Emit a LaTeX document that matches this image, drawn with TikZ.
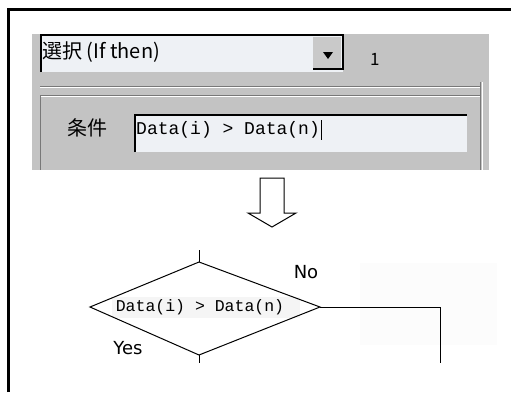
\documentclass[tikz,border=0pt]{standalone}
\usepackage{fontspec}
\newfontfamily\jpfont{Noto Sans CJK JP}
\newfontfamily\codefont{Liberation Mono}
\newfontfamily\labfont{DejaVu Sans}
\definecolor{panelgray}{RGB}{195,195,195}
\definecolor{fieldwhite}{RGB}{238,241,245}
\definecolor{groove}{RGB}{120,120,120}
\begin{document}
\begin{tikzpicture}
          [x=1pt,y=-1pt,every node/.style={inner sep=0pt},
           guitext/.style={font=\jpfont\fontsize{20}{20}\selectfont, anchor=west},
           codetext/.style={font=\codefont\fontsize{18}{18}\selectfont, anchor=west},
           flowtext/.style={font=\codefont\fontsize{16.5}{16.5}\selectfont},
           branch/.style={font=\labfont\fontsize{18}{18}\selectfont},
           flowline/.style={line width=1pt}]
        \useasboundingbox (0,0) rectangle (511,392);
        % frame (cut off at right and bottom)
        \draw[line width=2.5pt] (8.5,392) -- (8.5,9.5) -- (511,9.5);

        % dialog panel
        \fill[panelgray] (32,34) rectangle (489,170);
        \fill[fieldwhite] (40,34) rectangle (343,72);
        \draw[line width=1.5pt] (41,72) -- (41,35) -- (343,35) -- (343,69) -- (313,69);
        \fill[panelgray!90] (313,37) rectangle (341,68);
        \fill[black] (323,52) -- (333,52) -- (328,59) -- cycle;
        \node[guitext] (sel) at (42,52) {選択 (If then)};
        \node[guitext, font=\jpfont\fontsize{17}{17}\selectfont] (num) at (370,59) {1};
        \foreach \y/\c in {86/groove, 87.5/white, 95/groove, 96.5/white}
          \draw[\c] (40,\y) -- (481,\y);
        \draw[groove] (40,95) -- (40,170);
        \draw[groove] (480,82) -- (480,170);
        \draw[white] (482,82) -- (482,170);
        \node[guitext] (cond) at (67,128) {条件};
        \fill[fieldwhite] (134,114) rectangle (467,152);
        \draw[line width=1.5pt] (135,152) -- (135,115) -- (467,115);
        \node[codetext] (expr) at (136,130) {Data(i) > Data(n)};
        \draw (expr.east) ++(1,-10) -- ++(0,20);

        % arrow
        \draw[line width=1pt, fill=white] (260,178) -- (284,178) -- (284,213) -- (296,213)
          -- (272,227) -- (248,213) -- (260,213) -- cycle;

        % flowchart part
        \fill[gray!2] (360,263) rectangle (497,345);
        \fill[gray!8] (112,297) rectangle (300,318);
        \coordinate (dtop) at (199,262);
        \coordinate (dleft) at (90,307);
        \coordinate (dright) at (320,307);
        \coordinate (dbot) at (199,355);
        \coordinate (instem) at (199,250);
        \coordinate (outstem) at (199,363);
        \coordinate (turn) at (440,307);
        \coordinate (noend) at (440,363);
        \node[flowtext] (test) at (200,307) {Data(i) > Data(n)};
        \node[branch] (no) at (306,272) {No};
        \node[branch] (yes) at (128,348) {Yes};

        \draw[flowline] (dtop) -- (dright) -- (dbot) -- (dleft) -- cycle;
        \foreach \from/\to in {instem/dtop, dbot/outstem}
          \draw[flowline] (\from) -- (\to);
        \draw[flowline] (dright) -- (turn) -- (noend);
      \end{tikzpicture}
\end{document}
